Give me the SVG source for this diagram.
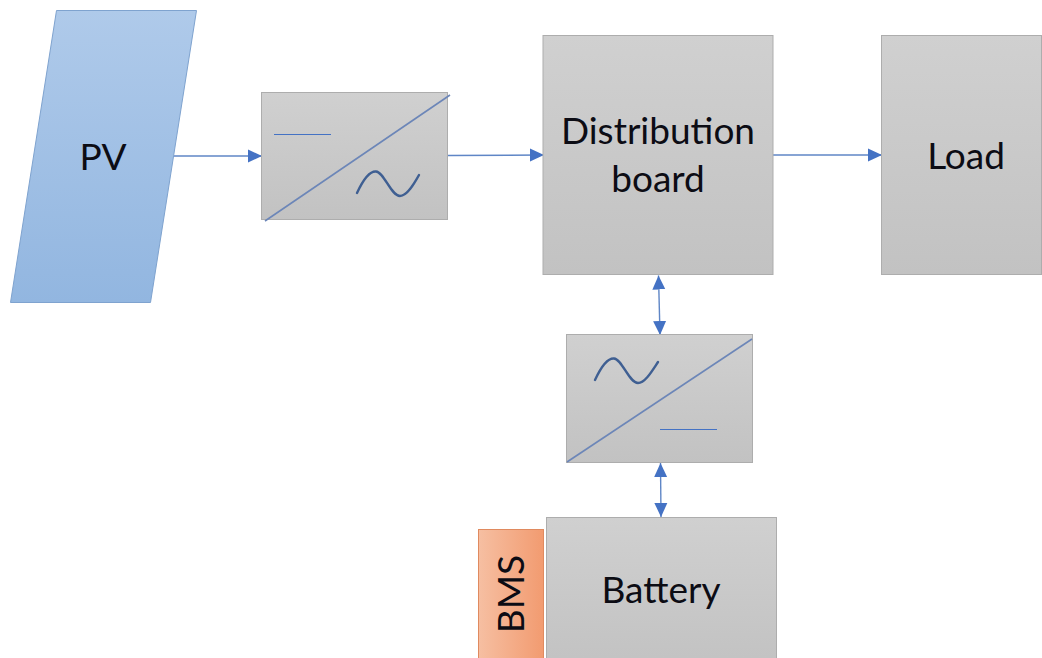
<svg xmlns="http://www.w3.org/2000/svg" width="1042" height="658" viewBox="0 0 1042 658">
<defs>
<linearGradient id="g" x1="0" y1="0" x2="0" y2="1"><stop offset="0" stop-color="#d0d0d0"/><stop offset="1" stop-color="#c2c2c2"/></linearGradient>
<linearGradient id="b" x1="0" y1="0" x2="0" y2="1"><stop offset="0" stop-color="#afcaea"/><stop offset="1" stop-color="#92b6e0"/></linearGradient>
<linearGradient id="o" x1="0" y1="0" x2="1" y2="0"><stop offset="0" stop-color="#f6bfa2"/><stop offset="1" stop-color="#f29b70"/></linearGradient>
<marker id="a" markerUnits="userSpaceOnUse" markerWidth="15" markerHeight="15" refX="14" refY="7" orient="auto-start-reverse"><path d="M0 0.500L14 7L0 13.500Z" fill="#4472c4"/></marker>
</defs>
<style>
.box{fill:url(#g);stroke:#adadad;stroke-width:1}
.t{font-family:"Lato","Open Sans","Liberation Sans",sans-serif;font-size:37px;fill:#0c0c14;text-anchor:middle}
.c{fill:none;stroke:#5f86c6;stroke-width:1.4}
.d{fill:none;stroke:#6c86b8;stroke-width:1.6}
.l{fill:none;stroke:#4472c4;stroke-width:1.2}
.s{fill:none;stroke:#3f5f92;stroke-width:2.4;stroke-linecap:round}
</style>
<g id="connectors">
<path class="c" marker-end="url(#a)" d="M174 156H262"/>
<path class="c" marker-end="url(#a)" d="M448 155.500L544 155"/>
<path class="c" marker-end="url(#a)" d="M773 155H882"/>
<path class="c" marker-start="url(#a)" marker-end="url(#a)" d="M658.500 275.500L660 335"/>
<path class="c" marker-start="url(#a)" marker-end="url(#a)" d="M660.500 463L661 517"/>
</g>
<g id="pv"><path d="M56.500 10.500H196.500L150.500 302.500H10.500Z" fill="url(#b)" stroke="#7fa3cf"/><text class="t" x="103" y="170">PV</text></g>
<g id="inverter">
<rect class="box" x="261.500" y="92.500" width="186" height="127"/>
<path class="d" d="M265 221L450 95"/>
<path class="l" d="M274 134.500H331"/>
<path class="s" d="M357 193C363 180 370 171 376 171.500C384 172 391 196 400 196C407 196 414 184 419 175"/>
</g>
<g id="distribution-board"><rect class="box" x="543" y="35.500" width="230" height="239"/><text class="t" x="658" y="144">Distribution</text><text class="t" x="658" y="192">board</text></g>
<g id="load"><rect class="box" x="881.500" y="35.500" width="160" height="239"/><text class="t" x="966" y="169">Load</text></g>
<g id="charger">
<rect class="box" x="566.500" y="334.500" width="186" height="128"/>
<path class="d" d="M567 462L752 339"/>
<path class="l" d="M660 429.500H717"/>
<path class="s" d="M595 380C601 367 608 358 614 358.500C622 359 629 383 638 383C645 383 652 371 658 362"/>
</g>
<g id="battery"><rect class="box" x="546.500" y="517.500" width="230" height="150"/><text class="t" x="661" y="603">Battery</text></g>
<g id="bms"><rect x="478.500" y="529.500" width="65" height="140" fill="url(#o)" stroke="#e08a5f"/><text class="t" transform="translate(524 594) rotate(-90)">BMS</text></g>
</svg>
